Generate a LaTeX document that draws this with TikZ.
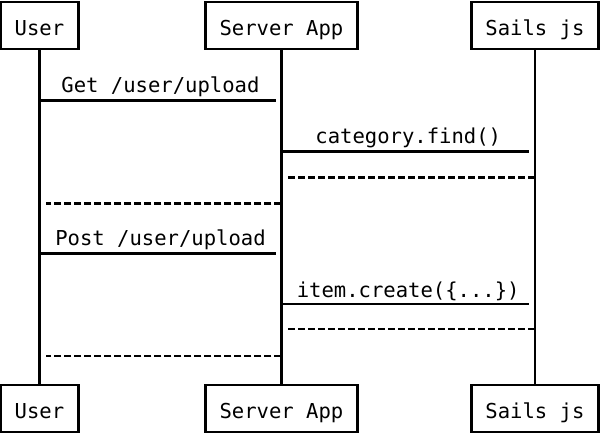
\documentclass[tikz,border=0pt]{standalone}
\usepackage{fontspec}
\newfontfamily\seqfont{DejaVu Sans Mono}
\usetikzlibrary{calc}

\tikzset{
	actor/.style={draw, line width=1.6pt, minimum height=0.94cm, inner xsep=0.28cm, text height=0.4cm, text depth=0pt, font=\seqfont\fontsize{11.7}{14}\selectfont},
	lifeline/.style={line width=1.7pt},
	call/.style={line width=1.7pt, shorten >=0.12cm},
	reply/.style={line width=1.7pt, dash pattern=on 4pt off 1.7pt, shorten >=0.14cm},
	msg/.style={above, inner sep=1pt, font=\seqfont\fontsize{11.7}{14}\selectfont}
}

\begin{document}
\begin{tikzpicture}[x=0.02cm, y=-0.02cm]
		\useasboundingbox (0, 0) rectangle (600, 434);
		\node [actor] (user) at (39.5, 25.5) {User};
		\node [actor] (server) at (281.5, 25.5) {Server App};
		\node [actor] (sails) at (535, 25.5) {Sails js};
		\node [actor] (userB) at (39.5, 408.5) {User};
		\node [actor] (serverB) at (281.5, 408.5) {Server App};
		\node [actor] (sailsB) at (535, 408.5) {Sails js};
		\draw [lifeline] (user) -- (userB);
		\draw [lifeline] (server) -- (serverB);
		\draw [lifeline] (sails) -- (sailsB);
		
		% points on the lifelines
		\coordinate (u1) at (39.5, 100);
		\coordinate (s1) at (281.5, 100);
		\coordinate (s2) at (281.5, 151);
		\coordinate (j2) at (535, 151);
		\coordinate (j3) at (535, 177);
		\coordinate (s3) at (281.5, 177);
		\coordinate (s4) at (281.5, 203);
		\coordinate (u4) at (39.5, 203);
		\coordinate (u5) at (39.5, 253);
		\coordinate (s5) at (281.5, 253);
		\coordinate (s6) at (281.5, 304);
		\coordinate (j6) at (535, 304);
		\coordinate (j7) at (535, 329);
		\coordinate (s7) at (281.5, 329);
		\coordinate (s8) at (281.5, 356);
		\coordinate (u8) at (39.5, 356);
		
		\draw [call] (u1) -- node [msg] {Get /user/upload} (s1);
		\draw [call] (s2) -- node [msg] {category.find()} (j2);
		\draw [reply] (j3) -- (s3);
		\draw [reply] (s4) -- (u4);
		\draw [call] (u5) -- node [msg] {Post /user/upload} (s5);
		\draw [call] (s6) -- node [msg] {item.create(\{...\})} (j6);
		\draw [reply] (j7) -- (s7);
		\draw [reply] (s8) -- (u8);
\end{tikzpicture}
\end{document}
